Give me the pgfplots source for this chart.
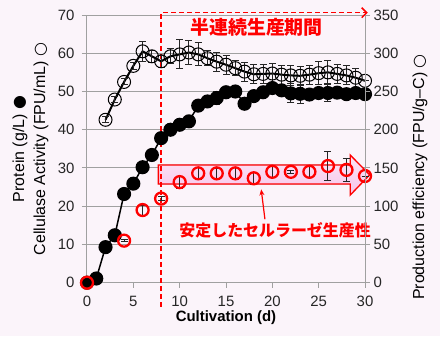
\documentclass[border=0pt]{standalone}
\usepackage{fontspec}
\setmainfont{Liberation Sans}
\newfontfamily\jp{Noto Sans CJK JP}
\newfontfamily\sym{DejaVu Sans}
\usepackage{pgfplots}
\pgfplotsset{compat=1.18}
\usetikzlibrary{arrows.meta}
\definecolor{bg}{RGB}{251,244,250}
\definecolor{pinktop}{RGB}{252,230,246}
\definecolor{pinkbot}{RGB}{246,196,234}
\definecolor{gridc}{RGB}{160,160,160}
\definecolor{myred}{RGB}{255,0,0}
\pgfplotsset{
  base/.style={at={(0,0)}, anchor=south west, scale only axis,
    width=278bp, height=267.7bp, xmin=0, xmax=30,
    axis line style={gridc, line width=1bp},
    tick align=outside, major tick length=5bp,
    tick style={gridc, line width=1bp},
    tick label style={font=\fontsize{15}{18}\selectfont, text=black!85},
    /pgf/number format/assume math mode=true,
  },
  eb/.style={error bars/.cd, y dir=both, y explicit,
    error bar style={black!85, line width=1bp},
    error mark options={rotate=90, mark size=3.5bp, black!85, line width=1bp}},
}
\begin{document}
\begin{tikzpicture}[x=1bp,y=1bp]
\fill[bg] (-87,-53.3) rectangle (353,282.7);
\begin{axis}[base, ymin=0, ymax=70,
  xtick={0,5,...,30}, ytick={0,10,...,70},
  tick pos=left,
  yticklabel style={xshift=-4bp},
  xticklabel style={yshift=-5bp},
  ymajorgrids, grid style={gridc, line width=1bp},
  clip=false]
% pink arrow
\filldraw[top color=pinktop, bottom color=pinkbot, draw=myred, line width=1.3bp]
  (axis cs:7.7,25.8) -- (axis cs:28.4,25.8) -- (axis cs:28.4,22.9) -- (axis cs:30.5,28.2)
  -- (axis cs:28.4,33.4) -- (axis cs:28.4,30.8) -- (axis cs:7.7,30.8) -- cycle;
% dashed period marker
\draw[myred, line width=1.5bp, dash pattern=on 5bp off 3bp, -{Straight Barb[length=5bp,width=10bp]}]
  (axis cs:8,-6.3) -- (axis cs:8,70.6) -- (axis cs:30.3,70.6);
\node[myred, font=\jp\bfseries\fontsize{19}{19}\selectfont] at (axis cs:18.3,66.9) {半連続生産期間};
\node[myred, font=\jp\bfseries\fontsize{16}{16}\selectfont] at (axis cs:20.3,13.8) {安定したセルラーゼ生産性};
\draw[myred, line width=1.2bp, -{Stealth[length=6bp,width=5bp]}] (axis cs:19.2,16.6) -- (axis cs:18.8,24.4);
% top series: open circles
\addplot[black, line width=2bp, mark=o, mark size=6.5bp, mark options={line width=1bp, solid}, eb]
  table[x=x, y=y, y error=e] {
x y e
2 42.6 0.8
3 47.9 0.8
4 52.5 0.8
5 56.7 1
6 60.5 2.7
7 59.2 1.5
8 57.9 1.5
9 59.2 2
10 59.7 3.8
11 60.2 3.2
12 59.7 3
13 58.7 2
14 57.8 2.5
15 57.0 2.5
16 56.1 2
17 55.2 2.5
18 54.5 2.5
19 54.6 2.5
20 54.7 2.5
21 54.4 2.5
22 54.2 2.6
23 54.1 2.5
24 54.4 2.5
25 54.8 3
26 55.0 3
27 54.6 2.5
28 54.2 2.5
29 53.6 2.5
30 52.8 0
};
% filled circles
\addplot[black, line width=1.5bp, mark=*, mark size=6.3bp, mark options={solid, fill=black}, eb]
  table[x=x, y=y, y error=e] {
x y e
0 0 0
1 1.1 0
2 9.3 0
3 12.4 0
4 23.2 0
5 25.9 0
6 30.2 0
7 33.4 0
8 37.8 0.5
9 40.0 0.5
10 41.3 0.5
11 42.2 0.5
12 46.3 0.5
13 47.4 0.5
14 48.3 1.8
15 49.8 0.5
16 50.0 0.5
17 46.8 0.5
18 48.8 1
19 49.8 1
20 50.9 1
21 50.3 1
22 49.5 2.5
23 49.4 2.5
24 49.2 1
25 49.6 1
26 49.6 2.2
27 49.7 1
28 49.3 1
29 49.6 1
30 49.3 0.5
};
% red circles: production efficiency (right scale / 5)
\addplot[only marks, mark=o, mark size=6bp, mark options={myred, line width=2.3bp}, eb]
  table[x=x, y=y, y error=e] {
x y e
0 0 0
4 11.0 0.3
6 19.0 1.3
8 22.0 0.6
10 26.3 1.6
12 28.6 1.5
14 28.6 1.3
16 28.6 1.5
18 27.3 1.6
20 29.0 1.5
22 29.0 0.4
24 29.0 1.5
26 30.5 3.8
28 29.5 3.0
30 27.9 0
};
\end{axis}
\begin{axis}[base, ymin=0, ymax=350, ytick={0,50,...,350},
  hide x axis, axis y line*=right]
\addplot[draw=none] coordinates {(0,0)};
\end{axis}
\node[rotate=90, font=\fontsize{16}{16}\selectfont] at (-67,133.7) {Protein (g/L) {\sym ●}};
\node[rotate=90, font=\fontsize{16}{16}\selectfont] at (-46,133.7) {Cellulase Activity (FPU/mL) {\sym ○}};
\node[rotate=90, font=\fontsize{16}{16}\selectfont] at (333,105.7) {Production efficiency (FPU/g–C) {\sym ○}};
\node[font=\bfseries\fontsize{15}{15}\selectfont] at (139,-35.3) {Cultivation (d)};
\pgfresetboundingbox
\path (-87,-53.3) rectangle (353,282.7);
\end{tikzpicture}
\end{document}
